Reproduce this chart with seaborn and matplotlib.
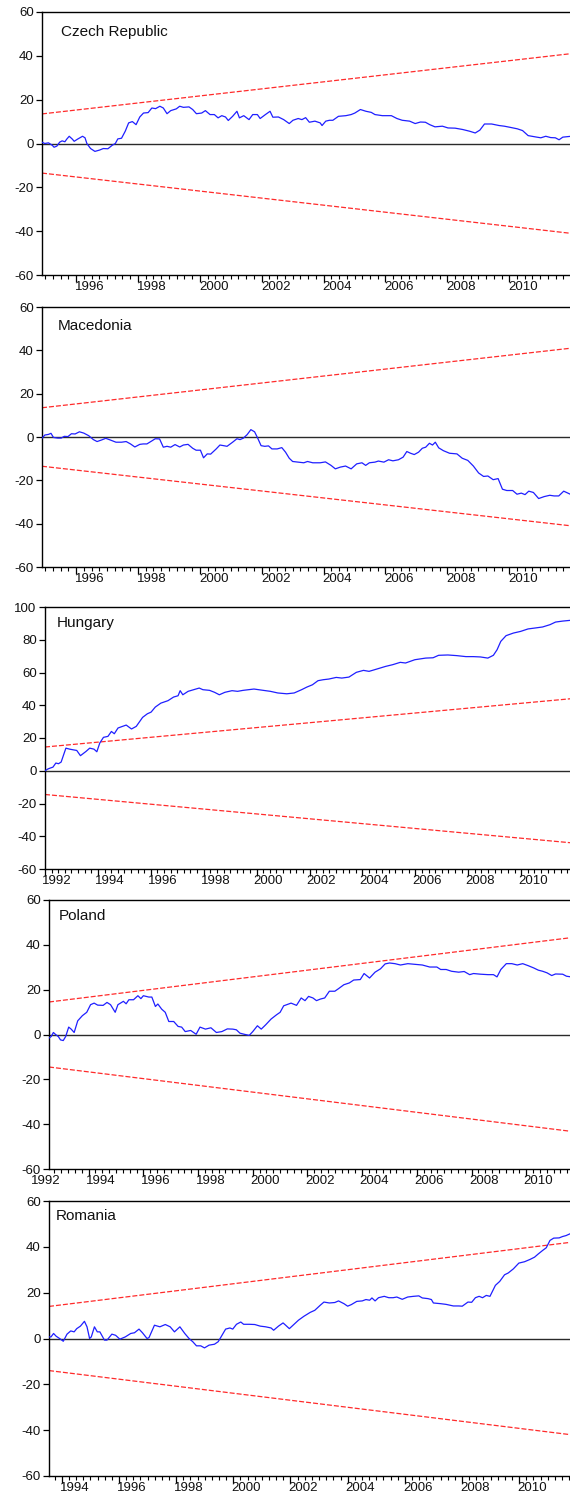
import numpy as np
import pandas as pd
import matplotlib
matplotlib.use("Agg")
import matplotlib.pyplot as plt
import matplotlib.transforms as mtransforms
from matplotlib.ticker import FixedLocator, NullFormatter
import seaborn as sns

sns.set_style("ticks")
plt.rcParams["font.family"] = ["Liberation Sans", "DejaVu Sans"]
plt.rcParams["axes.unicode_minus"] = False

# ---------------- data ----------------
country_names = ["Czech Republic", "Macedonia", "Hungary", "Poland", "Romania"]

czech_years = [1994.90, 1994.99, 1995.11, 1995.23, 1995.29, 1995.38, 1995.47, 1995.55, 1995.64, 1995.70,
               1995.78, 1995.88, 1995.94, 1996.05, 1996.21, 1996.29, 1996.35, 1996.47, 1996.61, 1996.76,
               1996.88, 1997.03, 1997.17, 1997.27, 1997.35, 1997.47, 1997.59, 1997.70, 1997.82, 1997.94,
               1998.06, 1998.18, 1998.33, 1998.45, 1998.57, 1998.71, 1998.82, 1998.94, 1999.06, 1999.24,
               1999.35, 1999.47, 1999.65, 1999.77, 1999.89, 2000.06, 2000.18, 2000.33, 2000.47, 2000.59,
               2000.71, 2000.83, 2000.92, 2001.06, 2001.20, 2001.28, 2001.42, 2001.59, 2001.71, 2001.86,
               2001.95, 2002.12, 2002.27, 2002.36, 2002.54, 2002.71, 2002.89, 2003.01, 2003.18, 2003.30,
               2003.42, 2003.54, 2003.72, 2003.89, 2003.95, 2004.07, 2004.19, 2004.30, 2004.48, 2004.72,
               2004.89, 2005.01, 2005.19, 2005.37, 2005.54, 2005.66, 2005.90, 2006.19, 2006.37, 2006.54,
               2006.78, 2006.96, 2007.13, 2007.29, 2007.43, 2007.60, 2007.84, 2008.02, 2008.25, 2008.49,
               2008.72, 2008.90, 2009.05, 2009.20, 2009.43, 2009.67, 2009.84, 2010.02, 2010.26, 2010.43,
               2010.61, 2010.85, 2011.02, 2011.18, 2011.34, 2011.49, 2011.61, 2011.73, 2012.00]
czech_cusum = [0.6, 0.0, 0.3, -0.8, -1.7, -1.2, 0.6, 1.2, 0.8, 2.0,
               3.3, 2.0, 1.0, 2.0, 3.3, 2.6, 0.0, -2.3, -3.6, -3.0,
               -2.3, -2.4, -0.8, 0.0, 2.1, 2.4, 5.6, 9.4, 10.0, 8.6,
               12.1, 13.9, 14.1, 16.2, 15.9, 17.0, 16.2, 13.6, 15.0, 15.8,
               17.0, 16.5, 16.7, 15.5, 13.6, 13.9, 15.0, 13.2, 13.2, 11.7,
               12.7, 12.1, 10.5, 12.4, 14.7, 11.7, 12.7, 10.9, 13.2, 13.2,
               11.4, 13.2, 14.7, 12.0, 12.1, 10.9, 9.1, 10.6, 11.4, 10.9,
               11.8, 9.7, 10.2, 9.4, 8.2, 10.2, 10.6, 10.6, 12.4, 12.7,
               13.2, 13.9, 15.5, 14.7, 14.2, 13.2, 12.7, 12.7, 11.4, 10.6,
               10.2, 9.1, 9.8, 9.7, 8.6, 7.6, 7.9, 7.1, 7.0, 6.4,
               5.6, 4.8, 6.1, 8.9, 8.9, 8.2, 7.9, 7.4, 6.7, 5.9,
               3.6, 3.0, 2.6, 3.3, 2.7, 2.6, 1.7, 2.9, 3.3]

macedonia_years = [1994.90, 1994.99, 1995.11, 1995.19, 1995.27, 1995.41, 1995.52, 1995.62, 1995.74, 1995.85,
                   1995.97, 1996.11, 1996.25, 1996.41, 1996.56, 1996.68, 1996.82, 1996.96, 1997.11, 1997.29,
                   1997.47, 1997.62, 1997.76, 1997.90, 1998.06, 1998.17, 1998.29, 1998.45, 1998.56, 1998.70,
                   1998.82, 1998.94, 1999.06, 1999.20, 1999.35, 1999.47, 1999.62, 1999.77, 1999.88, 2000.02,
                   2000.12, 2000.24, 2000.35, 2000.53, 2000.65, 2000.77, 2000.88, 2001.06, 2001.20, 2001.30,
                   2001.41, 2001.53, 2001.65, 2001.77, 2001.86, 2001.98, 2002.10, 2002.22, 2002.33, 2002.50,
                   2002.65, 2002.77, 2002.89, 2003.00, 2003.18, 2003.36, 2003.48, 2003.65, 2003.89, 2004.06,
                   2004.24, 2004.38, 2004.54, 2004.71, 2004.89, 2005.07, 2005.24, 2005.36, 2005.48, 2005.66,
                   2005.77, 2005.95, 2006.10, 2006.24, 2006.42, 2006.57, 2006.69, 2006.81, 2006.93, 2007.07,
                   2007.19, 2007.30, 2007.42, 2007.52, 2007.61, 2007.72, 2007.87, 2008.07, 2008.31, 2008.48,
                   2008.66, 2008.84, 2009.01, 2009.17, 2009.31, 2009.48, 2009.64, 2009.78, 2009.92, 2010.11,
                   2010.25, 2010.39, 2010.51, 2010.63, 2010.78, 2010.95, 2011.13, 2011.31, 2011.45, 2011.60,
                   2011.76, 2012.00]
macedonia_cusum = [-0.6, 0.9, 1.2, 1.7, -0.2, -0.5, -0.5, 0.3, 0.2, 1.5,
                   1.4, 2.4, 1.8, 0.6, -1.2, -2.1, -1.4, -0.6, -1.4, -2.4,
                   -2.4, -2.1, -3.2, -4.6, -3.4, -3.2, -3.2, -1.8, -0.8, -0.9,
                   -4.7, -4.3, -4.7, -3.5, -4.6, -3.7, -3.4, -5.2, -6.1, -6.1,
                   -9.6, -7.8, -7.9, -5.5, -3.7, -4.0, -4.3, -2.4, -0.8, -1.2,
                   -0.5, 1.1, 3.4, 2.4, -0.2, -4.0, -4.3, -4.1, -5.5, -5.5,
                   -4.9, -7.0, -9.8, -11.3, -11.6, -11.9, -11.3, -11.9, -11.9, -11.5,
                   -13.1, -14.7, -13.9, -13.4, -14.7, -12.4, -11.9, -13.1, -11.9, -11.6,
                   -11.1, -11.6, -10.5, -11.0, -10.5, -9.3, -6.7, -7.5, -8.1, -7.0,
                   -5.2, -4.7, -2.9, -3.7, -2.4, -5.0, -6.3, -7.5, -7.8, -9.8,
                   -10.8, -13.4, -16.6, -18.2, -18.0, -19.7, -19.2, -24.1, -24.7, -24.7,
                   -26.4, -25.9, -26.6, -25.0, -25.6, -28.4, -27.5, -26.9, -27.2, -27.2,
                   -25.0, -26.6]

hungary_years = [1992.00, 1992.10, 1992.19, 1992.30, 1992.41, 1992.51, 1992.61, 1992.79, 1992.93, 1993.06,
                 1993.20, 1993.34, 1993.55, 1993.69, 1993.85, 1993.96, 1994.07, 1994.21, 1994.38, 1994.51,
                 1994.62, 1994.76, 1994.93, 1995.07, 1995.27, 1995.45, 1995.69, 1995.87, 1996.01, 1996.17,
                 1996.38, 1996.65, 1996.86, 1997.03, 1997.11, 1997.21, 1997.41, 1997.62, 1997.83, 1997.97,
                 1998.22, 1998.41, 1998.59, 1998.80, 1999.07, 1999.28, 1999.49, 1999.90, 2000.25, 2000.52,
                 2000.80, 2001.14, 2001.42, 2001.70, 2001.90, 2002.11, 2002.32, 2002.52, 2002.73, 2003.01,
                 2003.22, 2003.49, 2003.77, 2004.04, 2004.25, 2004.46, 2004.87, 2005.15, 2005.43, 2005.63,
                 2005.98, 2006.39, 2006.67, 2006.88, 2007.23, 2007.57, 2007.91, 2008.19, 2008.46, 2008.74,
                 2008.95, 2009.09, 2009.23, 2009.43, 2009.71, 2009.98, 2010.26, 2010.54, 2010.81, 2011.09,
                 2011.30, 2011.57, 2011.89]
hungary_cusum = [0.0, 1.0, 1.6, 2.2, 4.7, 4.3, 5.3, 13.8, 13.2, 12.8,
                 12.4, 9.2, 11.8, 13.8, 13.2, 11.6, 16.9, 20.4, 21.0, 24.0,
                 22.6, 26.1, 27.1, 27.9, 25.5, 27.1, 32.6, 34.8, 35.8, 38.9,
                 41.3, 42.8, 45.0, 45.8, 48.9, 46.4, 48.5, 49.5, 50.5, 49.5,
                 49.1, 47.9, 46.4, 47.9, 48.9, 48.5, 49.1, 49.9, 49.1, 48.5,
                 47.5, 47.0, 47.5, 49.5, 51.1, 52.5, 55.0, 55.6, 56.0, 57.0,
                 56.6, 57.2, 60.1, 61.3, 60.7, 61.7, 63.7, 64.8, 66.2, 65.8,
                 67.8, 68.8, 69.0, 70.5, 70.7, 70.3, 69.7, 69.7, 69.5, 68.8,
                 70.5, 73.9, 79.0, 82.5, 84.1, 85.1, 86.6, 87.2, 87.8, 89.2,
                 90.8, 91.4, 91.9]

poland_years = [1992.55, 1992.63, 1992.71, 1992.80, 1992.89, 1992.97, 1993.07, 1993.16, 1993.27, 1993.36,
                1993.47, 1993.60, 1993.77, 1993.93, 1994.07, 1994.20, 1994.33, 1994.53, 1994.67, 1994.80,
                1994.97, 1995.07, 1995.27, 1995.37, 1995.47, 1995.64, 1995.80, 1995.91, 1996.00, 1996.20,
                1996.31, 1996.44, 1996.53, 1996.67, 1996.80, 1996.93, 1997.11, 1997.27, 1997.40, 1997.53,
                1997.73, 1997.93, 1998.07, 1998.27, 1998.47, 1998.67, 1998.87, 1999.07, 1999.27, 1999.40,
                1999.53, 1999.69, 1999.87, 2000.00, 2000.17, 2000.31, 2000.47, 2000.67, 2000.87, 2001.00,
                2001.13, 2001.40, 2001.60, 2001.77, 2001.91, 2002.04, 2002.20, 2002.33, 2002.47, 2002.63,
                2002.80, 2003.00, 2003.13, 2003.33, 2003.53, 2003.69, 2003.93, 2004.07, 2004.27, 2004.47,
                2004.67, 2004.84, 2005.00, 2005.20, 2005.40, 2005.67, 2005.93, 2006.20, 2006.47, 2006.73,
                2006.87, 2007.07, 2007.27, 2007.53, 2007.73, 2007.93, 2008.07, 2008.33, 2008.60, 2008.80,
                2008.93, 2009.07, 2009.27, 2009.47, 2009.67, 2009.87, 2010.07, 2010.27, 2010.44, 2010.60,
                2010.76, 2010.93, 2011.07, 2011.33, 2011.47, 2011.64]
poland_cusum = [-1.6, -0.9, 0.9, -0.1, -0.9, -2.4, -2.7, -0.9, 3.3, 2.4,
                0.9, 6.1, 8.4, 9.9, 13.3, 14.0, 13.1, 13.0, 14.3, 13.3,
                9.9, 13.3, 14.8, 13.7, 15.5, 15.5, 17.3, 16.0, 17.3, 16.7,
                16.7, 12.5, 13.6, 11.3, 9.9, 5.8, 5.8, 3.6, 3.3, 1.3,
                1.8, 0.1, 3.3, 2.4, 3.0, 0.9, 1.3, 2.5, 2.4, 2.1,
                0.6, 0.1, -0.4, 1.3, 3.9, 2.4, 4.3, 6.9, 8.8, 9.9,
                12.8, 14.0, 13.0, 16.3, 15.1, 17.0, 16.3, 15.1, 15.8, 16.3,
                19.3, 19.3, 20.4, 22.2, 23.0, 24.3, 24.5, 27.2, 25.2, 27.8,
                29.3, 31.5, 31.9, 31.6, 31.0, 31.6, 31.3, 31.0, 30.1, 30.1,
                29.0, 29.0, 28.2, 27.8, 28.1, 26.7, 27.2, 26.9, 26.7, 26.7,
                25.7, 29.0, 31.6, 31.6, 31.0, 31.6, 30.7, 29.7, 28.7, 28.2,
                27.5, 26.3, 27.0, 26.9, 26.0, 25.7]

romania_years = [1993.55, 1993.62, 1993.71, 1993.80, 1993.92, 1994.05, 1994.18, 1994.31, 1994.43, 1994.52,
                 1994.65, 1994.79, 1994.88, 1994.97, 1995.03, 1995.14, 1995.24, 1995.33, 1995.49, 1995.58,
                 1995.75, 1995.88, 1996.03, 1996.22, 1996.41, 1996.54, 1996.70, 1996.82, 1996.98, 1997.05,
                 1997.24, 1997.43, 1997.62, 1997.79, 1997.94, 1998.13, 1998.30, 1998.45, 1998.58, 1998.71,
                 1998.86, 1998.99, 1999.15, 1999.34, 1999.47, 1999.57, 1999.73, 1999.88, 1999.98, 2000.11,
                 2000.26, 2000.36, 2000.56, 2000.75, 2000.94, 2001.13, 2001.32, 2001.41, 2001.58, 2001.74,
                 2001.83, 2001.96, 2002.09, 2002.28, 2002.47, 2002.69, 2002.85, 2003.04, 2003.17, 2003.36,
                 2003.55, 2003.68, 2003.87, 2004.00, 2004.13, 2004.32, 2004.51, 2004.64, 2004.77, 2004.85,
                 2004.96, 2005.08, 2005.28, 2005.44, 2005.59, 2005.72, 2005.91, 2006.10, 2006.30, 2006.49,
                 2006.61, 2006.81, 2006.93, 2007.00, 2007.25, 2007.44, 2007.70, 2007.89, 2008.01, 2008.21,
                 2008.34, 2008.47, 2008.60, 2008.72, 2008.85, 2008.98, 2009.17, 2009.32, 2009.49, 2009.62,
                 2009.80, 2009.99, 2010.19, 2010.38, 2010.54, 2010.67, 2010.82, 2010.95, 2011.08, 2011.21,
                 2011.40, 2011.52, 2011.64, 2011.82]
romania_cusum = [0.7, 0.7, 2.2, 1.0, 0.0, -1.2, 1.9, 3.3, 2.9, 4.3,
                 5.4, 7.5, 5.1, 0.0, 0.7, 5.1, 2.9, 2.9, -0.7, -0.7,
                 1.9, 1.4, -0.3, 0.7, 2.2, 2.5, 4.1, 2.5, 0.0, 0.4,
                 5.8, 5.1, 6.1, 5.1, 2.9, 5.1, 2.2, 0.0, -1.4, -3.2,
                 -3.2, -4.1, -2.9, -2.5, -1.4, 0.7, 4.1, 4.6, 4.1, 6.2,
                 7.2, 6.2, 6.2, 6.1, 5.4, 5.1, 4.6, 3.6, 5.4, 6.8,
                 5.8, 4.3, 5.8, 8.0, 9.7, 11.4, 12.3, 14.5, 15.9, 15.5,
                 15.7, 16.4, 15.2, 14.1, 14.8, 16.2, 16.4, 17.0, 16.7, 17.7,
                 16.4, 17.8, 18.4, 17.8, 17.8, 18.1, 17.1, 18.1, 18.4, 18.6,
                 17.7, 17.4, 17.0, 15.5, 15.2, 14.9, 14.2, 14.2, 14.1, 15.9,
                 15.8, 17.8, 18.4, 17.8, 18.8, 18.4, 23.2, 24.9, 27.8, 28.6,
                 30.4, 32.9, 33.5, 34.5, 35.5, 36.9, 38.4, 39.6, 42.8, 43.8,
                 43.9, 44.5, 44.9, 45.9]

# 5% significance bounds: value at the first and at the last observation
czech_bound = [13.5, 41.0]
macedonia_bound = [13.5, 41.0]
hungary_bound = [14.5, 44.0]
poland_bound = [14.5, 43.2]
romania_bound = [14.0, 42.0]

czech_labels = [1996, 1998, 2000, 2002, 2004, 2006, 2008, 2010]
macedonia_labels = [1996, 1998, 2000, 2002, 2004, 2006, 2008, 2010]
hungary_labels = [1992, 1994, 1996, 1998, 2000, 2002, 2004, 2006, 2008, 2010]
poland_labels = [1992, 1994, 1996, 1998, 2000, 2002, 2004, 2006, 2008, 2010]
romania_labels = [1994, 1996, 1998, 2000, 2002, 2004, 2006, 2008, 2010]

# ---------------- layout ----------------
W, H = 570, 1499
fig = plt.figure(figsize=(W / 100, H / 100), dpi=100)
fig.patch.set_facecolor("white")

panels = [
    # name, years, values, bound, labels, (left, top, bottom) px, ylim, title offset px
    (country_names[0], czech_years, czech_cusum, czech_bound, czech_labels, (42, 12, 275), (-60, 60), (19, -13)),
    (country_names[1], macedonia_years, macedonia_cusum, macedonia_bound, macedonia_labels, (42, 307, 567), (-60, 60), (16, -12)),
    (country_names[2], hungary_years, hungary_cusum, hungary_bound, hungary_labels, (45, 607, 869), (-60, 100), (12, -9)),
    (country_names[3], poland_years, poland_cusum, poland_bound, poland_labels, (49, 900, 1169), (-60, 60), (10, -9)),
    (country_names[4], romania_years, romania_cusum, romania_bound, romania_labels, (49, 1201, 1476), (-60, 60), (7, -8)),
]

blue = "#1f1fff"
red = "#ff2b2b"

for name, yrs, vals, bound, labels, (lp, tp, bp), ylim, toff in panels:
    ax = fig.add_axes([lp / W, 1 - bp / H, (W - lp) / W + 0.002, (bp - tp) / H])
    df = pd.DataFrame({"year": yrs, "cusum": vals})
    x0, x1 = yrs[0], yrs[-1]

    ax.axhline(0, color="#2a2a2a", lw=1.0, zorder=1)
    ax.plot([x0, x1], [bound[0], bound[1]], color=red, lw=0.9, dashes=(4, 1.6), zorder=2)
    ax.plot([x0, x1], [-bound[0], -bound[1]], color=red, lw=0.9, dashes=(4, 1.6), zorder=2)
    sns.lineplot(data=df, x="year", y="cusum", ax=ax, color=blue, lw=0.9, zorder=3)

    ax.set_xlim(x0, x1)
    ax.set_ylim(*ylim)
    ax.set_yticks(np.arange(ylim[0], ylim[1] + 1, 20))
    ax.set_xlabel("")
    ax.set_ylabel("")

    # x ticks: tall at even years, short each quarter
    ax.xaxis.set_major_locator(FixedLocator(np.arange(1990, 2014, 2)))
    ax.xaxis.set_minor_locator(FixedLocator(np.arange(1990, 2014, 0.25)))
    ax.xaxis.set_major_formatter(NullFormatter())
    ax.tick_params(axis="x", which="major", direction="out", length=5, width=0.9, color="black")
    ax.tick_params(axis="x", which="minor", direction="out", length=3, width=0.8, color="black")
    ax.tick_params(axis="y", which="major", direction="out", length=4, width=0.9, color="black",
                   labelsize=9.5, pad=2, labelcolor="#111111")

    trans = mtransforms.blended_transform_factory(ax.transData, ax.transAxes)
    for yr in labels:
        ax.annotate(str(yr), xy=(yr + 0.45, 0), xycoords=trans, xytext=(0, -6),
                    textcoords="offset pixels", ha="center", va="top", fontsize=9.5,
                    color="#111111", annotation_clip=False)

    for side in ["left", "bottom", "top"]:
        ax.spines[side].set_color("black")
        ax.spines[side].set_linewidth(1.0)
    ax.spines["right"].set_visible(False)

    ax.annotate(name, xy=(0, 1), xycoords="axes fraction", xytext=toff,
                textcoords="offset pixels", ha="left", va="top", fontsize=11, color="#111111")

fig.savefig("out.png", dpi=100, facecolor="white")
